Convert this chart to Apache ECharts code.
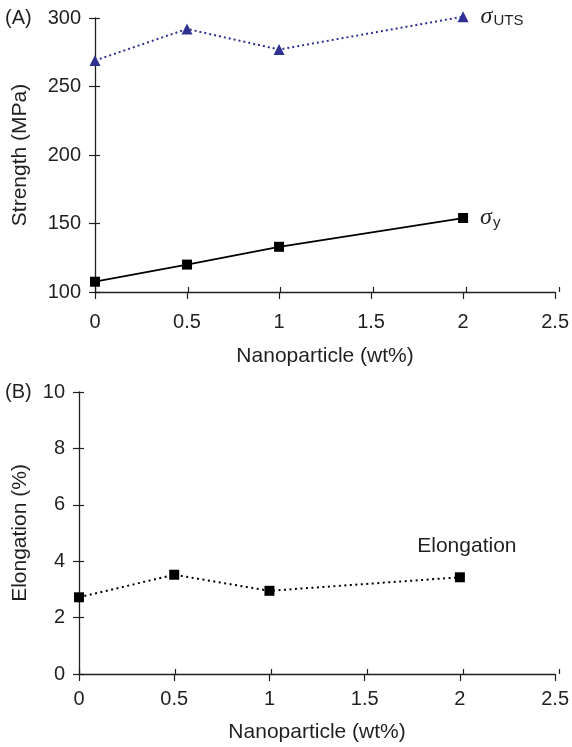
<!DOCTYPE html>
<html>
<head>
<meta charset="utf-8">
<script src="https://cdn.jsdelivr.net/npm/echarts@6/dist/echarts.min.js"></script>
<style>html,body{margin:0;padding:0;background:#fff}#c{width:572px;height:747px}</style>
</head>
<body>
<div id="c"></div>
<script>
// ---- data ----
var xValues = [0, 0.5, 1, 2];
var utsValues = [269, 292, 277, 301];
var yieldValues = [107.5, 120, 133, 154];
var elongValues = [2.72, 3.52, 2.95, 3.43];
var xTicks = [0, 0.5, 1, 1.5, 2, 2.5];
var strengthTicks = [100, 150, 200, 250, 300];
var elongTicks = [0, 2, 4, 6, 8, 10];

var FONT = 'Liberation Sans, Arial, sans-serif';
var AX = '#231f20';
var TXT = '#231f20';

function pairs(xs, ys, lastLabel) {
  return xs.map(function (x, i) {
    var d = { value: [x, ys[i]] };
    if (i === xs.length - 1 && lastLabel) d.label = lastLabel;
    return d;
  });
}

function range(t) { return { min: t[0], max: t[t.length - 1], interval: t[1] - t[0] }; }

function xAxisMain(gi, labelMargin, nameGap) {
  var r = range(xTicks);
  return {
    type: 'value', gridIndex: gi, position: 'bottom', min: r.min, max: r.max, interval: r.interval,
    name: 'Nanoparticle (wt%)', nameLocation: 'middle', nameGap: nameGap,
    nameTextStyle: { fontFamily: FONT, fontSize: 21, color: TXT },
    axisLine: { lineStyle: { color: AX, width: 1.3 } },
    axisTick: { show: true, inside: false, length: 7, lineStyle: { color: AX, width: 1.2 } },
    axisLabel: { fontFamily: FONT, fontSize: 20, color: TXT, margin: labelMargin,
      formatter: function (v) { return String(v); } },
    splitLine: { show: false }
  };
}
function xAxisInner(gi) {
  var r = range(xTicks);
  return {
    type: 'value', gridIndex: gi, position: 'bottom', min: r.min, max: r.max, interval: r.interval,
    axisLine: { show: false },
    axisTick: { show: true, inside: true, length: 5, lineStyle: { color: AX, width: 1.2 } },
    axisLabel: { show: false }, splitLine: { show: false }
  };
}
function yAxisMain(gi, ticks, name, nameGap) {
  var r = range(ticks);
  return {
    type: 'value', gridIndex: gi, position: 'left', min: r.min, max: r.max, interval: r.interval,
    name: name, nameLocation: 'middle', nameGap: nameGap, nameRotate: 90,
    nameTextStyle: { fontFamily: FONT, fontSize: 21, color: TXT },
    axisLine: { show: true, lineStyle: { color: AX, width: 1.3 } },
    axisTick: { show: true, inside: false, length: 6, lineStyle: { color: AX, width: 1.2 } },
    axisLabel: { fontFamily: FONT, fontSize: 20, color: TXT, margin: 14 },
    splitLine: { show: false }
  };
}
function yAxisInner(gi, ticks) {
  var r = range(ticks);
  return {
    type: 'value', gridIndex: gi, position: 'left', min: r.min, max: r.max, interval: r.interval,
    axisLine: { show: false },
    axisTick: { show: true, inside: true, length: 5, lineStyle: { color: AX, width: 1.2 } },
    axisLabel: { show: false }, splitLine: { show: false }
  };
}

var sigmaRich = {
  s: { fontFamily: 'Liberation Serif, Times New Roman, serif', fontStyle: 'italic', fontSize: 24, color: TXT },
  sub: { fontFamily: FONT, fontSize: 15, color: TXT, padding: [9, 0, 0, 1] }
};

var gTop = { left: 95, right: 13, top: 18, height: 274 };
var gBot = { left: 79, right: 13, top: 392, height: 282 };

var chart = echarts.init(document.getElementById('c'), null, { renderer: 'canvas' });
chart.setOption({
  animation: false,
  backgroundColor: '#fff',
  grid: [gTop, gBot, gTop, gBot],
  xAxis: [xAxisMain(0, 20, 54), xAxisMain(1, 15, 48), xAxisInner(2), xAxisInner(3)],
  yAxis: [
    yAxisMain(0, strengthTicks, 'Strength (MPa)', 64),
    yAxisMain(1, elongTicks, 'Elongation (%)', 48),
    yAxisInner(2, strengthTicks),
    yAxisInner(3, elongTicks)
  ],
  graphic: [
    { type: 'text', left: 5, top: 8, style: { text: '(A)', font: '20px ' + FONT, fill: TXT } },
    { type: 'text', left: 5, top: 382, style: { text: '(B)', font: '20px ' + FONT, fill: TXT } }
  ],
  series: [
    {
      type: 'line', xAxisIndex: 0, yAxisIndex: 0, clip: false,
      data: pairs(xValues, utsValues, {
        show: true, position: 'right', distance: 12,
        formatter: '{s|σ}{sub|UTS}', rich: sigmaRich
      }),
      symbol: 'triangle', symbolSize: 11,
      itemStyle: { color: '#2e3192' },
      lineStyle: { color: '#2e3192', width: 2, type: [2, 3] },
      label: { show: false }
    },
    {
      type: 'line', xAxisIndex: 0, yAxisIndex: 0, clip: false,
      data: pairs(xValues, yieldValues, {
        show: true, position: 'right', distance: 12,
        formatter: '{s|σ}{sub|y}', rich: sigmaRich
      }),
      symbol: 'rect', symbolSize: 10,
      itemStyle: { color: '#000' },
      lineStyle: { color: '#000', width: 1.8, type: 'solid' },
      label: { show: false }
    },
    {
      type: 'line', xAxisIndex: 1, yAxisIndex: 1, clip: false,
      data: pairs(xValues, elongValues, {
        show: true, position: 'top', distance: 16, offset: [7, 0],
        formatter: 'Elongation', fontFamily: FONT, fontSize: 21, color: TXT
      }),
      symbol: 'rect', symbolSize: 10,
      itemStyle: { color: '#000' },
      lineStyle: { color: '#000', width: 2, type: [2, 3.5] },
      label: { show: false }
    }
  ]
});
</script>
</body>
</html>
